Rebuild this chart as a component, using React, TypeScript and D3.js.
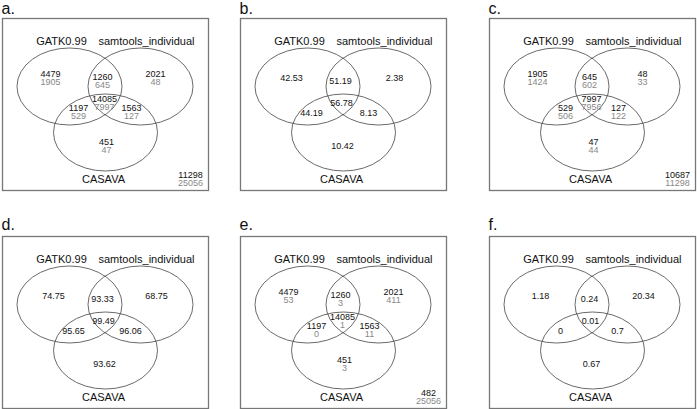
import React from "react";
import * as d3 from "d3";

// ---------- data ----------
const panelLetters = ["a.", "b.", "c.", "d.", "e.", "f."];
const setLabels = ["GATK0.99", "samtools_individual", "CASAVA"];
// regions: GATK only, GATK∩sam, sam only, all three, GATK∩CASAVA, sam∩CASAVA, CASAVA only
const regionKeys = ["G", "GS", "S", "GSC", "GC", "SC", "C"];

const aTop = ["4479", "1260", "2021", "14085", "1197", "1563", "451"];
const aBottom = ["1905", "645", "48", "7997", "529", "127", "47"];
const aCorner = ["11298", "25056"];

const bValues = ["42.53", "51.19", "2.38", "56.78", "44.19", "8.13", "10.42"];

const cTop = ["1905", "645", "48", "7997", "529", "127", "47"];
const cBottom = ["1424", "602", "33", "7956", "506", "122", "44"];
const cCorner = ["10687", "11298"];

const dValues = ["74.75", "93.33", "68.75", "99.49", "95.65", "96.06", "93.62"];

const eTop = ["4479", "1260", "2021", "14085", "1197", "1563", "451"];
const eBottom = ["53", "3", "411", "1", "0", "11", "3"];
const eCorner = ["482", "25056"];

const fValues = ["1.18", "0.24", "20.34", "0.01", "0", "0.7", "0.67"];

type Panel = {
  letter: string;
  top: string[];
  bottom: string[] | null;
  corner: string[] | null;
};

const panels: Panel[] = [
  { letter: panelLetters[0], top: aTop, bottom: aBottom, corner: aCorner },
  { letter: panelLetters[1], top: bValues, bottom: null, corner: null },
  { letter: panelLetters[2], top: cTop, bottom: cBottom, corner: cCorner },
  { letter: panelLetters[3], top: dValues, bottom: null, corner: null },
  { letter: panelLetters[4], top: eTop, bottom: eBottom, corner: eCorner },
  { letter: panelLetters[5], top: fValues, bottom: null, corner: null },
];

// ---------- layout (in panel units, box = 206 x 172) ----------
const BOX_W = 206;
const BOX_H = 172;
const colX = [2.5, 240.5, 489.5];
const rowY = [18.5, 236.5];
const letterBaseline = [14, 230];

const ellipses = [
  { cx: 67, cy: 68, rx: 52.5, ry: 38.5 },
  { cx: 138, cy: 68, rx: 52.5, ry: 38.5 },
  { cx: 103, cy: 114, rx: 52, ry: 38.5 },
];
const labelPos = [
  { x: 59, y: 22.5 },
  { x: 144, y: 22.5 },
  { x: 101, y: 160.5 },
];
// pair anchors (center of first line)
const pairPos: Record<string, [number, number]> = {
  G: [48, 55],
  GS: [100, 58],
  S: [153, 55],
  GSC: [102, 80],
  GC: [76, 89],
  SC: [129, 89],
  C: [104, 123],
};
const singlePos: Record<string, [number, number]> = {
  G: [51, 59],
  GS: [100, 62],
  S: [154, 59],
  GSC: [101, 84],
  GC: [71, 94],
  SC: [128, 94],
  C: [102, 127],
};
const cornerPos: [number, number] = [188, 156];
const LINE_GAP = 8.5;
const NUM_SIZE = 9;

const FONT = "'Liberation Sans', Arial, Helvetica, sans-serif";

function VennPanel({ panel, col, row }: { panel: Panel; col: number; row: number }) {
  const x = d3.scaleLinear().domain([0, BOX_W]).range([colX[col], colX[col] + BOX_W]);
  const y = d3.scaleLinear().domain([0, BOX_H]).range([rowY[row], rowY[row] + BOX_H]);
  return (
    <g>
      <text
        x={colX[col] - 1}
        y={letterBaseline[row]}
        fontSize={16}
        fontFamily={FONT}
        fill="#111"
      >
        {panel.letter}
      </text>
      <rect
        x={x(0)}
        y={y(0)}
        width={BOX_W}
        height={BOX_H}
        fill="none"
        stroke="#777"
        strokeWidth={1.3}
      />
      {ellipses.map((e, i) => (
        <ellipse
          key={i}
          cx={x(e.cx)}
          cy={y(e.cy)}
          rx={e.rx}
          ry={e.ry}
          fill="none"
          stroke="#444"
          strokeWidth={0.8}
        />
      ))}
      {setLabels.map((l, i) => (
        <text
          key={l}
          x={x(labelPos[i].x)}
          y={y(labelPos[i].y)}
          dy="0.35em"
          textAnchor="middle"
          fontSize={11}
          fontFamily={FONT}
          fill="#111"
        >
          {l}
        </text>
      ))}
      {regionKeys.map((k, i) => {
        if (panel.bottom) {
          const [px, py] = pairPos[k];
          return (
            <g key={k}>
              <text x={x(px)} y={y(py)} dy="0.35em" textAnchor="middle" fontSize={NUM_SIZE} fontFamily={FONT} fill="#111">
                {panel.top[i]}
              </text>
              <text
                x={x(px)}
                y={y(py + LINE_GAP)}
                dy="0.35em"
                textAnchor="middle"
                fontSize={NUM_SIZE}
                fontFamily={FONT}
                fill="#888"
              >
                {panel.bottom[i]}
              </text>
            </g>
          );
        }
        const [px, py] = singlePos[k];
        return (
          <text key={k} x={x(px)} y={y(py)} dy="0.35em" textAnchor="middle" fontSize={NUM_SIZE} fontFamily={FONT} fill="#111">
            {panel.top[i]}
          </text>
        );
      })}
      {panel.corner && (
        <g>
          <text x={x(cornerPos[0])} y={y(cornerPos[1])} dy="0.35em" textAnchor="middle" fontSize={NUM_SIZE} fontFamily={FONT} fill="#111">
            {panel.corner[0]}
          </text>
          <text
            x={x(cornerPos[0])}
            y={y(cornerPos[1] + LINE_GAP)}
            dy="0.35em"
            textAnchor="middle"
            fontSize={NUM_SIZE}
            fontFamily={FONT}
            fill="#888"
          >
            {panel.corner[1]}
          </text>
        </g>
      )}
    </g>
  );
}

export default function App() {
  return (
    <svg
      width={697}
      height={409}
      style={{ position: "absolute", left: 0, top: 0, background: "#fff" }}
    >
      <rect x={0} y={0} width={697} height={409} fill="#fff" />
      {panels.map((p, i) => (
        <VennPanel key={p.letter} panel={p} col={i % 3} row={Math.floor(i / 3)} />
      ))}
    </svg>
  );
}
